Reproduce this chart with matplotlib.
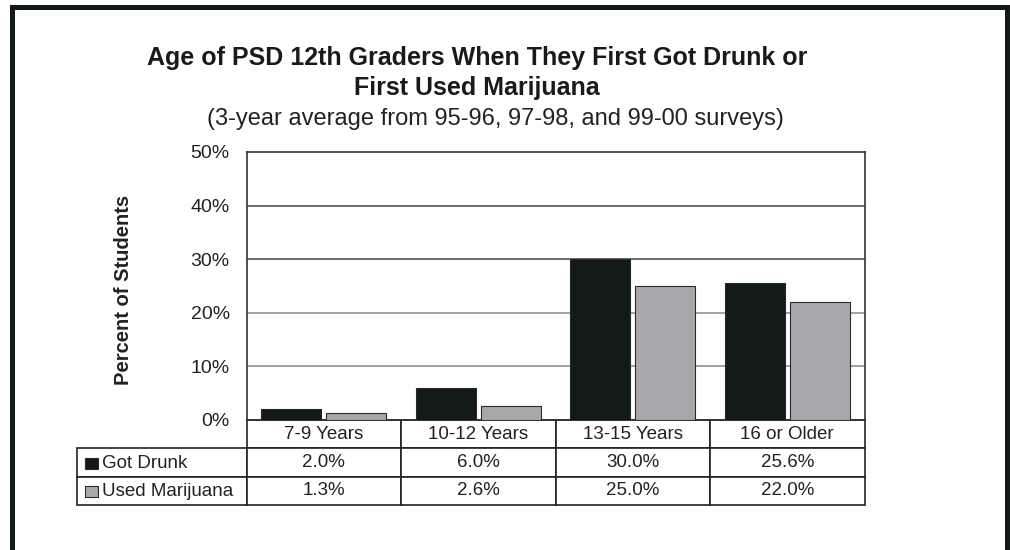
import numpy as np
import matplotlib.pyplot as plt
from matplotlib.patches import Rectangle

plt.rcParams['font.family'] = ['Liberation Sans', 'DejaVu Sans']

categories = ["7-9 Years", "10-12 Years", "13-15 Years", "16 or Older"]
series_names = ["Got Drunk", "Used Marijuana"]
got_drunk = [2.0, 6.0, 30.0, 25.6]
used_marijuana = [1.3, 2.6, 25.0, 22.0]
yticks = [0, 10, 20, 30, 40, 50]

DARK = '#111a18'
GREY = '#a7a8ab'
EDGE = '#2a2a2a'
TXT = '#222222'

fig = plt.figure(figsize=(10.1, 5.5), dpi=100)
W, H = 1010, 550

# outer frame
fig.patches.append(Rectangle((11.5/W, -0.05), (1007 - 11.5)/W, 1.05 - 7/H,
                             transform=fig.transFigure, fill=False,
                             edgecolor=DARK, linewidth=3.6))

ax = fig.add_axes([246.5/W, 1 - 420/H, 618/W, 268/H])

x = np.arange(len(categories))
width = 0.39
ax.bar(x - 0.21, got_drunk, width, color=DARK, edgecolor=EDGE, linewidth=0.8, zorder=3)
ax.bar(x + 0.21, used_marijuana, width, color=GREY, edgecolor=EDGE, linewidth=0.8, zorder=3)

ax.set_xlim(-0.5, len(categories) - 0.5)
ax.set_ylim(0, 50)
ax.set_yticks(yticks)
ax.set_yticklabels([f"{t}%" for t in yticks], fontsize=14, color=TXT)
ax.tick_params(axis='y', length=0, pad=12)
ax.set_xticks([])
for t in yticks[1:-1]:
    ax.axhline(t, color='#444444' if t >= 30 else '#888888', linewidth=1.1, zorder=1)
for s in ax.spines.values():
    s.set_color('#333333')
    s.set_linewidth(1.2)

ax.set_ylabel("Percent of Students", fontsize=14.5, fontweight='bold', color=TXT)
ax.yaxis.set_label_coords((133 - 246.5)/618, 0.485)

# data table under the chart (first column holds the series labels)
cell_text = [[""] + [f"{v:.1f}%" for v in got_drunk],
             [""] + [f"{v:.1f}%" for v in used_marijuana]]
label_w = (246.5 - 77) / 618
tbl = ax.table(cellText=cell_text, colLabels=[""] + categories,
               colWidths=[label_w] + [0.25] * 4, cellLoc='center',
               bbox=[-label_w, -85/268, 1 + label_w, 85/268])
tbl.auto_set_font_size(False)
tbl.set_fontsize(13.5)
for (r, c), cell in tbl.get_celld().items():
    cell.set_edgecolor('#222222')
    cell.set_linewidth(1.2)
    cell.get_text().set_color(TXT)
tbl[0, 0].visible_edges = 'open'

# row labels with legend keys
row_centers = [(449 + 477) / 2, (477 + 505) / 2]
for name, col, yc in zip(series_names, [DARK, GREY], row_centers):
    ax.add_patch(Rectangle(((84.5 - 246.5)/618, (420 - yc - 6)/268), 13.5/618, 11.5/268,
                           facecolor=col, edgecolor=EDGE, linewidth=0.8,
                           clip_on=False, transform=ax.transAxes, zorder=5))
    ax.text((102.5 - 246.5)/618, (420 - yc)/268, name, fontsize=13.5,
            va='center', ha='left', color=TXT, transform=ax.transAxes, zorder=5)

fig.text(477/W, 1 - 65/H, "Age of PSD 12th Graders When They First Got Drunk or",
         ha='center', va='baseline', fontsize=18, fontweight='bold', color='#1a1a1a')
fig.text(477/W, 1 - 95/H, "First Used Marijuana",
         ha='center', va='baseline', fontsize=18, fontweight='bold', color='#1a1a1a')
fig.text(495/W, 1 - 125/H, "(3-year average from 95-96, 97-98, and 99-00 surveys)",
         ha='center', va='baseline', fontsize=17, color=TXT)

fig.savefig("out.png", dpi=100)
